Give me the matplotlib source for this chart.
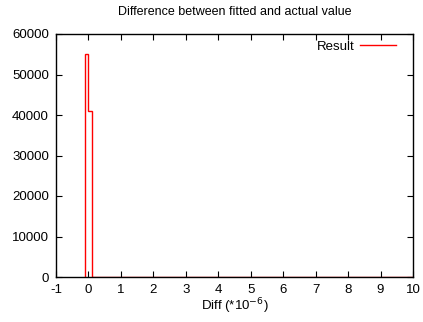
import numpy as np
import matplotlib.pyplot as plt

plt.rcParams['font.family'] = ['Liberation Sans', 'DejaVu Sans']
plt.rcParams['axes.unicode_minus'] = False

# histogram of differences (units of 1e-6)
bin_edges = [-0.1, 0.0, 0.1, 10.0]
counts = [55000, 41000, 0]
x_ticks = list(range(-1, 11))
y_ticks = list(range(0, 60001, 10000))

fig = plt.figure(figsize=(4.23, 3.22), dpi=100)
ax = fig.add_axes([56/423, 1 - 277/322, (413-56)/423, (277-34)/322])

ax.stairs(counts, bin_edges, baseline=0, color='#ff0000', lw=1, label='Result')

ax.set_xlim(-1, 10)
ax.set_ylim(0, 60000)
ax.set_xticks(x_ticks)
ax.set_yticks(y_ticks)
ax.tick_params(direction='in', top=True, right=True, labelsize=9.5, length=4, pad=5)
for s in ax.spines.values():
    s.set_linewidth(1)
ax.set_title('Difference between fitted and actual value', fontsize=9, pad=14)
ax.set_xlabel('Diff (*10$^{\\mathrm{-6}}$)', fontsize=9.5, labelpad=0)
handle = plt.Line2D([], [], color='#ff0000', lw=1)
ax.legend([handle], ['Result'], loc='upper right', bbox_to_anchor=(0.97, 1.0),
          frameon=False, fontsize=9.5, markerfirst=False, handlelength=2.7,
          handletextpad=0.4, borderaxespad=0.2, borderpad=0.3)

fig.savefig('out.png', dpi=100)
